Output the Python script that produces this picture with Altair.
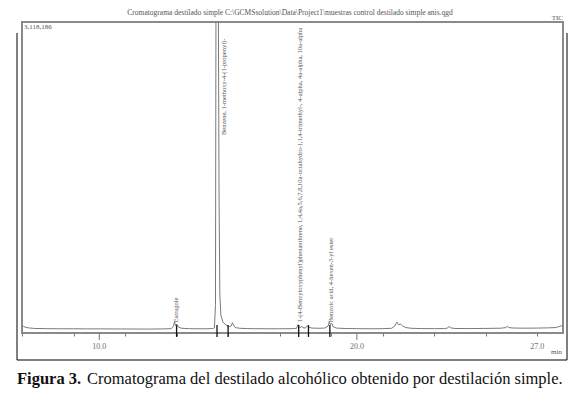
import altair as alt
import pandas as pd

# ---- data ----
trace_time = [7.00, 7.05, 7.12, 7.25, 7.5, 8.0, 8.5, 9.0, 9.5, 10.0, 10.5, 11.0, 11.5, 12.0,
              12.5, 12.8, 12.88, 12.92, 12.96, 13.02, 13.07, 13.2, 13.5, 13.8, 14.1, 14.4,
              14.47, 14.51, 14.53, 14.62, 14.65, 14.68, 14.72, 14.80, 14.92, 15.05, 15.12,
              15.17, 15.21, 15.28, 15.45, 15.7, 16.0, 16.5, 17.0, 17.5, 17.66, 17.71, 17.75,
              17.80, 17.86, 17.9, 18.0, 18.08, 18.13, 18.25, 18.5, 18.75, 18.88, 18.93, 18.97,
              19.02, 19.07, 19.2, 19.5, 20.0, 20.5, 21.0, 21.35, 21.47, 21.55, 21.62, 21.7,
              21.78, 21.9, 22.1, 22.5, 23.0, 23.4, 23.52, 23.58, 23.64, 23.8, 24.2, 24.7,
              25.2, 25.6, 25.78, 25.84, 25.9, 26.1, 26.6, 27.0, 27.4, 27.7, 27.85, 27.95, 28.0]
trace_int = [25000, 28000, 20000, 12000, 6000, 4000, 3000, 3000, 2000, 2000, 1000, 1000, 0, 0,
             2000, 4000, 30000, 75000, 35000, 50000, 20000, 8000, 4000, 3000, 3000, 5000,
             12000, 250000, 3400000, 3400000, 1300000, 350000, 140000, 70000, 40000, 25000, 30000,
             65000, 40000, 15000, 8000, 5000, 4000, 3000, 3000, 4000, 8000, 45000, 25000,
             12000, 30000, 14000, 10000, 35000, 20000, 10000, 8000, 10000, 30000, 75000, 45000,
             60000, 25000, 10000, 6000, 4000, 3000, 4000, 8000, 30000, 70000, 45000, 50000,
             30000, 15000, 8000, 5000, 4000, 5000, 10000, 28000, 12000, 6000, 5000, 6000,
             7000, 9000, 15000, 28000, 15000, 10000, 9000, 10000, 12000, 15000, 25000, 35000, 38000]

peak_label_time = [12.96, 14.86, 17.79, 18.99]
peak_label_y = [70000, 1970000, 70000, 70000]
peak_label_text = [
    "Estragole",
    "Benzene, 1-methoxy-4-(1-propenyl)-",
    "1-(4-Benzyloxyphenyl)phenanthrene, 1,4,4a,5,6,7,8,10a-octahydro-1,1,4-trimethyl-, 4-alpha, 4a-alpha, 10a-alpha",
    "Benzoic acid, 4-hexen-3-yl ester",
]
marker_time = [13.0, 14.57, 15.0, 17.74, 18.12, 18.95]
major_tick_values = [10, 20]
tick_values = list(range(7, 29))
tick_label_values = [10, 20, 27]
tick_labels = ["10.0", "20.0", "27.0"]
x_domain = [7.0, 28.0]
max_intensity = 3118186
max_label = "3,118,186"
title_text = r"Cromatograma destilado simple C:\GCMSsolution\Data\Project1\muestras control destilado simple anis.qgd"
caption_bold = "Figura 3."
caption_rest = "Cromatograma del destilado alcohólico obtenido por destilación simple."

FONT = "Liberation Serif"
GRAY = "#6e6e6e"

xs = alt.Scale(domain=x_domain, nice=False, zero=False)
ys = alt.Scale(domain=[-40000, max_intensity], nice=False, zero=False)

trace = pd.DataFrame({"t": trace_time, "i": trace_int})
line = alt.Chart(trace).mark_line(clip=True, color="#7a7a7a", strokeWidth=1).encode(
    x=alt.X("t:Q", scale=xs, axis=alt.Axis(
        values=tick_values, labels=False, title=None, grid=False, domain=False,
        tickSize=3, tickColor="#777777")),
    y=alt.Y("i:Q", scale=ys, axis=None),
)

tick_text = alt.Chart(pd.DataFrame({"t": tick_label_values, "s": tick_labels})).mark_text(
    font=FONT, fontSize=8, color=GRAY, align="center", baseline="top").encode(
    x=alt.X("t:Q", scale=xs), y=alt.value(321), text="s:N")

markers = alt.Chart(pd.DataFrame({"t": marker_time})).mark_rule(
    color="#111111", strokeWidth=1.3).encode(
    x=alt.X("t:Q", scale=xs), y=alt.datum(40000), y2=alt.datum(-80000))

major = alt.Chart(pd.DataFrame({"t": major_tick_values})).mark_rule(
    color="#777777", strokeWidth=1).encode(
    x=alt.X("t:Q", scale=xs), y=alt.value(311), y2=alt.value(318))

labels = alt.Chart(pd.DataFrame({"t": peak_label_time, "y": peak_label_y,
                                 "s": peak_label_text})).mark_text(
    angle=270, align="left", baseline="middle", font=FONT, fontSize=6.5,
    color="#555555").encode(
    x=alt.X("t:Q", scale=xs), y=alt.Y("y:Q", scale=ys), text="s:N")


def txt(s, x, y, **kw):
    return alt.Chart(pd.DataFrame({"s": [s]})).mark_text(font=FONT, **kw).encode(
        x=alt.value(x), y=alt.value(y), text="s:N")


title = txt(title_text, 268, -9, fontSize=7.5, color="#555555", align="center", baseline="middle")
maxl = txt(max_label, 2, 5, fontSize=7, color="#555555", align="left", baseline="middle")
tic = txt("TIC", 541, -4, fontSize=7, color="#555555", align="right", baseline="middle")
minl = txt("min", 540, 330, fontSize=7, color="#555555", align="right", baseline="middle")
cap1 = txt(caption_bold, -5, 362, fontSize=16.5, fontWeight="bold", color="#111111",
           align="left", baseline="alphabetic")
cap2 = txt(caption_rest, 65, 362, fontSize=16.5, color="#111111",
           align="left", baseline="alphabetic")

frame_l = alt.Chart(pd.DataFrame({"a": [0]})).mark_rule(color="black", strokeWidth=1).encode(
    x=alt.value(-5), y=alt.value(11), y2=alt.value(338))
frame_r = alt.Chart(pd.DataFrame({"a": [0]})).mark_rule(color="black", strokeWidth=1).encode(
    x=alt.value(545), y=alt.value(11), y2=alt.value(338))
frame_b = alt.Chart(pd.DataFrame({"a": [0]})).mark_rule(color="black", strokeWidth=1).encode(
    x=alt.value(-5), x2=alt.value(545), y=alt.value(338))

chart = alt.layer(
    line, tick_text, markers, major, labels, title, maxl, tic, minl, cap1, cap2,
    frame_l, frame_r, frame_b
).properties(
    width=541, height=311,
    padding={"left": 14, "top": 14, "right": 9, "bottom": 61},
    autosize=alt.AutoSizeParams(type="none"),
    background="white",
).configure_view(stroke="#8a8a8a", strokeWidth=2)

chart.save("out.html", embed_options={"renderer": "svg", "actions": False})
